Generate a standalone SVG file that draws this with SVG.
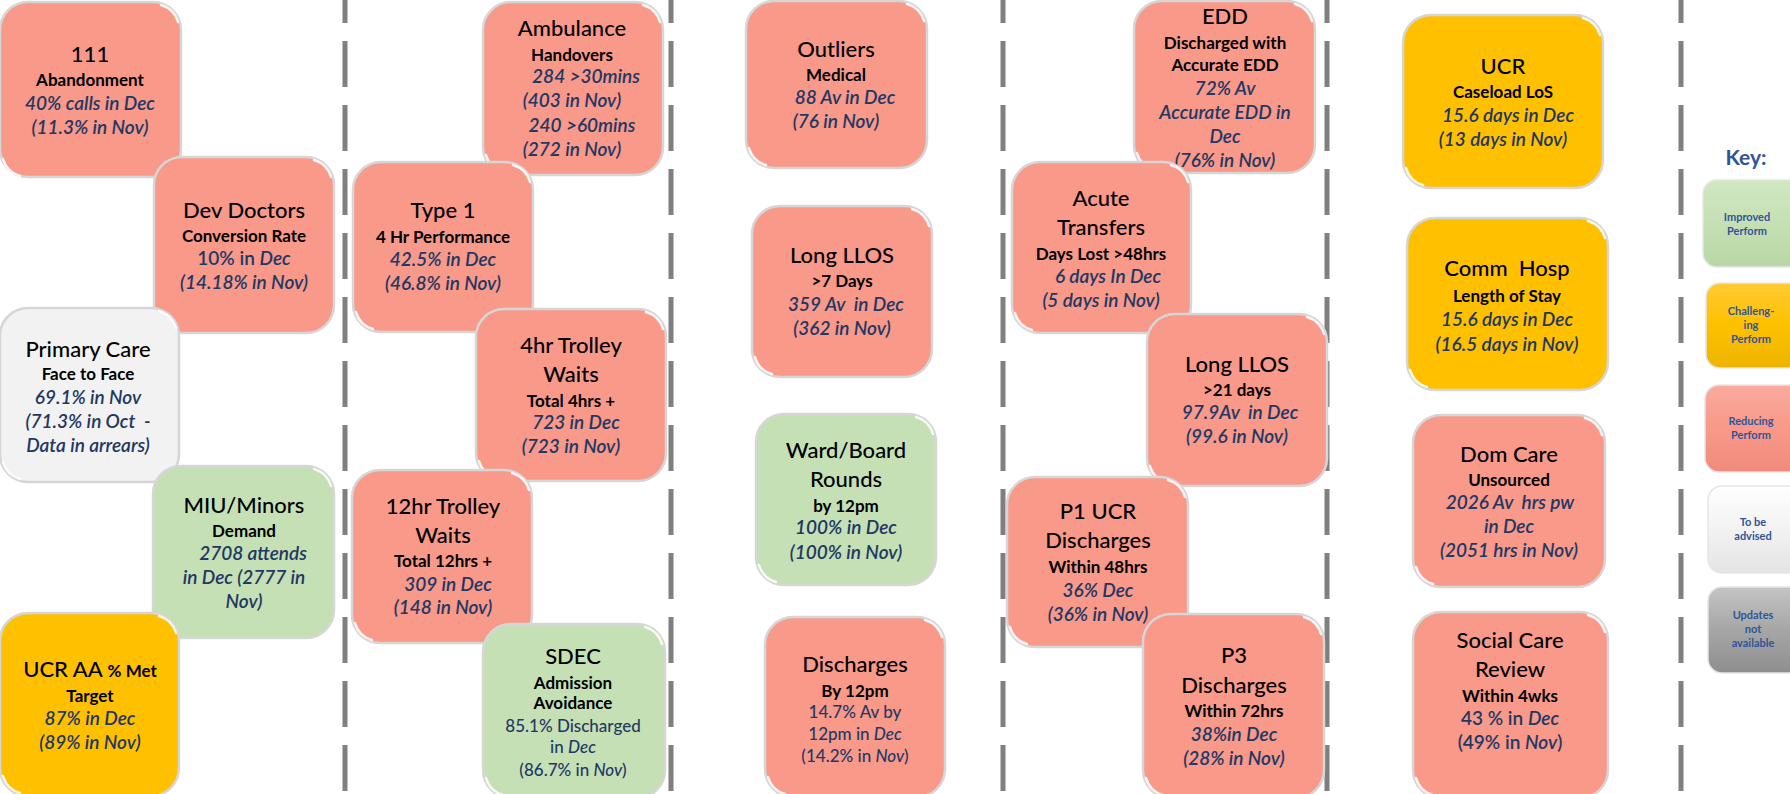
<svg xmlns="http://www.w3.org/2000/svg" width="1790" height="794" viewBox="0 0 1790 794">
<defs>
<linearGradient id="gG" x1="0" y1="0" x2="0" y2="1"><stop offset="0" stop-color="#D2E8C4"/><stop offset="0.5" stop-color="#C5E0B4"/><stop offset="1" stop-color="#B9D7A6"/></linearGradient>
<linearGradient id="gY" x1="0" y1="0" x2="0" y2="1"><stop offset="0" stop-color="#FFCB33"/><stop offset="0.5" stop-color="#FFC000"/><stop offset="1" stop-color="#EDB400"/></linearGradient>
<linearGradient id="gR" x1="0" y1="0" x2="0" y2="1"><stop offset="0" stop-color="#FBAA9D"/><stop offset="0.5" stop-color="#F8998A"/><stop offset="1" stop-color="#EF8B7C"/></linearGradient>
<linearGradient id="gW" x1="0" y1="0" x2="0" y2="1"><stop offset="0" stop-color="#FFFFFF"/><stop offset="0.5" stop-color="#F2F2F2"/><stop offset="1" stop-color="#E4E4E4"/></linearGradient>
<linearGradient id="gK" x1="0" y1="0" x2="0" y2="1"><stop offset="0" stop-color="#C4C4C4"/><stop offset="0.5" stop-color="#A6A6A6"/><stop offset="1" stop-color="#8E8E8E"/></linearGradient>
</defs>
<style>
text{font-family:Lato,"Liberation Sans",sans-serif;text-anchor:middle}
.box{stroke:#D6D6D6;stroke-width:2.5}
.red{fill:#F8998A}
.grn{fill:#C5E0B4}
.yel{fill:#FFC000}
.wht{fill:#F2F2F2}
.gl{fill:none;stroke:#FFFFFF;stroke-width:2.5;stroke-opacity:0.85;stroke-linecap:round}
.t{font-size:22px;font-weight:500;fill:#000}
.s{font-size:17px;font-weight:bold;fill:#000}
.v{font-size:19px;font-weight:600;font-style:italic;fill:#1F3864}
.u{font-size:19px;font-weight:600;fill:#1F3864}
.u2{font-size:17px;font-weight:500;fill:#1F3864}
.i{font-style:italic}
.sep{stroke:#7F7F7F;stroke-width:5;stroke-dasharray:46 18;stroke-dashoffset:23}
.key{font-size:21px;font-weight:bold;fill:#2F5597}
.k{font-size:11px;font-weight:bold;fill:#2F5597}
.kb{stroke:#E6E6E6;stroke-width:1.5}
</style>

<g id="separators">
<line class="sep" x1="345" y1="0" x2="345" y2="794"/>
<line class="sep" x1="671" y1="0" x2="671" y2="794"/>
<line class="sep" x1="1003" y1="0" x2="1003" y2="794"/>
<line class="sep" x1="1327" y1="0" x2="1327" y2="794"/>
<line class="sep" x1="1681" y1="0" x2="1681" y2="794"/>
</g>

<g id="n111">
<rect class="box red" x="0" y="2" width="181" height="175" rx="28"/>
<path class="gl" d="M161,5 A25 25 0 0 1 178,22 M3,159 A25 25 0 0 0 20,176"/>
<text class="t" x="90" y="62">111</text>
<text class="s" x="90" y="86">Abandonment</text>
<text class="v" x="90" y="110">40% calls in Dec</text>
<text class="v" x="90" y="134">(11.3% in Nov)</text>
</g>

<g id="nDevDoctors">
<rect class="box red" x="154" y="157" width="180" height="176" rx="28"/>
<path class="gl" d="M314,160 A25 25 0 0 1 331,177 M157,313 A25 25 0 0 0 174,330"/>
<text class="t" x="244" y="218">Dev Doctors</text>
<text class="s" x="244" y="242">Conversion Rate</text>
<text class="u" x="244" y="265">10% in <tspan class="i">Dec</tspan></text>
<text class="v" x="244" y="289">(14.18% in Nov)</text>
</g>

<g id="nPrimaryCare">
<rect class="box wht" x="0" y="308" width="179" height="174" rx="28"/>
<path class="gl" d="M159,311 A25 25 0 0 1 176,328 M3,462 A25 25 0 0 0 20,479"/>
<text class="t" x="88" y="357">Primary Care</text>
<text class="s" x="88" y="380">Face to Face</text>
<text class="v" x="88" y="404">69.1% in Nov</text>
<text class="v" x="88" y="428" xml:space="preserve">(71.3% in Oct  -</text>
<text class="v" x="88" y="452">Data in arrears)</text>
</g>

<g id="nMIU">
<rect class="box grn" x="153" y="466" width="181" height="172" rx="28"/>
<path class="gl" d="M314,469 A25 25 0 0 1 331,486 M156,618 A25 25 0 0 0 173,635"/>
<text class="t" x="244" y="513">MIU/Minors</text>
<text class="s" x="244" y="537">Demand</text>
<text class="v" x="253" y="560">2708 attends</text>
<text class="v" x="244" y="584">in Dec (2777 in</text>
<text class="v" x="244" y="608">Nov)</text>
</g>

<g id="nUCRAA">
<rect class="box yel" x="0" y="613" width="179" height="183" rx="28"/>
<path class="gl" d="M159,616 A25 25 0 0 1 176,633 M3,776 A25 25 0 0 0 20,793"/>
<text class="t" x="90" y="677">UCR AA <tspan class="s">% Met</tspan></text>
<text class="s" x="90" y="702">Target</text>
<text class="v" x="90" y="725">87% in Dec</text>
<text class="v" x="90" y="749">(89% in Nov)</text>
</g>

<g id="nAmbulance">
<rect class="box red" x="483" y="2" width="180" height="173" rx="28"/>
<path class="gl" d="M643,5 A25 25 0 0 1 660,22 M486,155 A25 25 0 0 0 503,172"/>
<text class="t" x="572" y="36">Ambulance</text>
<text class="s" x="572" y="61">Handovers</text>
<text class="v" x="586" y="83">284 &gt;30mins</text>
<text class="v" x="572" y="107">(403 in Nov)</text>
<text class="v" x="582" y="132">240 &gt;60mins</text>
<text class="v" x="572" y="156">(272 in Nov)</text>
</g>

<g id="nType1">
<rect class="box red" x="353" y="162" width="180" height="170" rx="28"/>
<path class="gl" d="M513,165 A25 25 0 0 1 530,182 M356,312 A25 25 0 0 0 373,329"/>
<text class="t" x="443" y="218">Type 1</text>
<text class="s" x="443" y="243">4 Hr Performance</text>
<text class="v" x="443" y="266">42.5% in Dec</text>
<text class="v" x="443" y="290">(46.8% in Nov)</text>
</g>

<g id="n4hrTrolley">
<rect class="box red" x="476" y="309" width="190" height="172" rx="28"/>
<path class="gl" d="M646,312 A25 25 0 0 1 663,329 M479,461 A25 25 0 0 0 496,478"/>
<text class="t" x="571" y="353">4hr Trolley</text>
<text class="t" x="571" y="382">Waits</text>
<text class="s" x="571" y="407">Total 4hrs +</text>
<text class="v" x="576" y="429">723 in Dec</text>
<text class="v" x="571" y="453">(723 in Nov)</text>
</g>

<g id="n12hrTrolley">
<rect class="box red" x="352" y="470" width="180" height="173" rx="28"/>
<path class="gl" d="M512,473 A25 25 0 0 1 529,490 M355,623 A25 25 0 0 0 372,640"/>
<text class="t" x="443" y="514">12hr Trolley</text>
<text class="t" x="443" y="543">Waits</text>
<text class="s" x="443" y="567">Total 12hrs +</text>
<text class="v" x="448" y="591">309 in Dec</text>
<text class="v" x="443" y="614">(148 in Nov)</text>
</g>

<g id="nSDEC">
<rect class="box grn" x="483" y="624" width="182" height="174" rx="28"/>
<path class="gl" d="M645,627 A25 25 0 0 1 662,644 M486,778 A25 25 0 0 0 503,795"/>
<text class="t" x="573" y="664">SDEC</text>
<text class="s" x="573" y="689">Admission</text>
<text class="s" x="573" y="709">Avoidance</text>
<text class="u2" x="573" y="732">85.1% Discharged</text>
<text class="u2" x="573" y="753">in <tspan class="i">Dec</tspan></text>
<text class="u2" x="573" y="776">(86.7% in <tspan class="i">Nov</tspan>)</text>
</g>

<g id="nOutliers">
<rect class="box red" x="746" y="1" width="181" height="167" rx="28"/>
<path class="gl" d="M907,4 A25 25 0 0 1 924,21 M749,148 A25 25 0 0 0 766,165"/>
<text class="t" x="836" y="57">Outliers</text>
<text class="s" x="836" y="81">Medical</text>
<text class="v" x="845" y="104">88 Av in Dec</text>
<text class="v" x="836" y="128">(76 in Nov)</text>
</g>

<g id="nLongLLOS7">
<rect class="box red" x="752" y="206" width="180" height="171" rx="28"/>
<path class="gl" d="M912,209 A25 25 0 0 1 929,226 M755,357 A25 25 0 0 0 772,374"/>
<text class="t" x="842" y="263">Long LLOS</text>
<text class="s" x="842" y="287">&gt;7 Days</text>
<text class="v" x="846" y="311" xml:space="preserve">359 Av  in Dec</text>
<text class="v" x="842" y="335">(362 in Nov)</text>
</g>

<g id="nWardBoard">
<rect class="box grn" x="756" y="414" width="180" height="171" rx="28"/>
<path class="gl" d="M916,417 A25 25 0 0 1 933,434 M759,565 A25 25 0 0 0 776,582"/>
<text class="t" x="846" y="458">Ward/Board</text>
<text class="t" x="846" y="487">Rounds</text>
<text class="s" x="846" y="512">by 12pm</text>
<text class="v" x="846" y="534">100% in Dec</text>
<text class="v" x="846" y="559">(100% in Nov)</text>
</g>

<g id="nDischarges">
<rect class="box red" x="765" y="617" width="180" height="180" rx="28"/>
<path class="gl" d="M925,620 A25 25 0 0 1 942,637 M768,777 A25 25 0 0 0 785,794"/>
<text class="t" x="855" y="672">Discharges</text>
<text class="s" x="855" y="697">By 12pm</text>
<text class="u2" x="855" y="718">14.7% Av by</text>
<text class="u2" x="855" y="740">12pm in <tspan class="i">Dec</tspan></text>
<text class="u2" x="855" y="762">(14.2% in <tspan class="i">Nov</tspan>)</text>
</g>

<g id="nEDD">
<rect class="box red" x="1134" y="1" width="181" height="172" rx="28"/>
<path class="gl" d="M1295,4 A25 25 0 0 1 1312,21 M1137,153 A25 25 0 0 0 1154,170"/>
<text class="t" x="1225" y="24">EDD</text>
<text class="s" x="1225" y="49">Discharged with</text>
<text class="s" x="1225" y="71">Accurate EDD</text>
<text class="v" x="1225" y="95">72% Av</text>
<text class="v" x="1225" y="119">Accurate EDD in</text>
<text class="v" x="1225" y="143">Dec</text>
<text class="v" x="1225" y="167">(76% in Nov)</text>
</g>

<g id="nAcuteTransfers">
<rect class="box red" x="1012" y="162" width="179" height="171" rx="28"/>
<path class="gl" d="M1171,165 A25 25 0 0 1 1188,182 M1015,313 A25 25 0 0 0 1032,330"/>
<text class="t" x="1101" y="206">Acute</text>
<text class="t" x="1101" y="235">Transfers</text>
<text class="s" x="1101" y="260">Days Lost &gt;48hrs</text>
<text class="v" x="1108" y="283">6 days In Dec</text>
<text class="v" x="1101" y="307">(5 days in Nov)</text>
</g>

<g id="nLongLLOS21">
<rect class="box red" x="1147" y="314" width="180" height="172" rx="28"/>
<path class="gl" d="M1307,317 A25 25 0 0 1 1324,334 M1150,466 A25 25 0 0 0 1167,483"/>
<text class="t" x="1237" y="372">Long LLOS</text>
<text class="s" x="1237" y="396">&gt;21 days</text>
<text class="v" x="1240" y="419" xml:space="preserve">97.9Av  in Dec</text>
<text class="v" x="1237" y="443">(99.6 in Nov)</text>
</g>

<g id="nP1UCR">
<rect class="box red" x="1007" y="477" width="181" height="170" rx="28"/>
<path class="gl" d="M1168,480 A25 25 0 0 1 1185,497 M1010,627 A25 25 0 0 0 1027,644"/>
<text class="t" x="1098" y="519">P1 UCR</text>
<text class="t" x="1098" y="548">Discharges</text>
<text class="s" x="1098" y="573">Within 48hrs</text>
<text class="v" x="1098" y="597">36% Dec</text>
<text class="v" x="1098" y="621">(36% in Nov)</text>
</g>

<g id="nP3">
<rect class="box red" x="1143" y="614" width="181" height="184" rx="28"/>
<path class="gl" d="M1304,617 A25 25 0 0 1 1321,634 M1146,778 A25 25 0 0 0 1163,795"/>
<text class="t" x="1234" y="663">P3</text>
<text class="t" x="1234" y="693">Discharges</text>
<text class="s" x="1234" y="717">Within 72hrs</text>
<text class="v" x="1234" y="741">38%in Dec</text>
<text class="v" x="1234" y="765">(28% in Nov)</text>
</g>

<g id="nUCR">
<rect class="box yel" x="1403" y="15" width="200" height="173" rx="28"/>
<path class="gl" d="M1583,18 A25 25 0 0 1 1600,35 M1406,168 A25 25 0 0 0 1423,185"/>
<text class="t" x="1503" y="74">UCR</text>
<text class="s" x="1503" y="98">Caseload LoS</text>
<text class="v" x="1508" y="122">15.6 days in Dec</text>
<text class="v" x="1503" y="146">(13 days in Nov)</text>
</g>

<g id="nCommHosp">
<rect class="box yel" x="1407" y="218" width="201" height="172" rx="28"/>
<path class="gl" d="M1588,221 A25 25 0 0 1 1605,238 M1410,370 A25 25 0 0 0 1427,387"/>
<text class="t" x="1507" y="276" xml:space="preserve">Comm  Hosp</text>
<text class="s" x="1507" y="302">Length of Stay</text>
<text class="v" x="1507" y="326">15.6 days in Dec</text>
<text class="v" x="1507" y="351">(16.5 days in Nov)</text>
</g>

<g id="nDomCare">
<rect class="box red" x="1413" y="415" width="192" height="172" rx="28"/>
<path class="gl" d="M1585,418 A25 25 0 0 1 1602,435 M1416,567 A25 25 0 0 0 1433,584"/>
<text class="t" x="1509" y="462">Dom Care</text>
<text class="s" x="1509" y="486">Unsourced</text>
<text class="v" x="1510" y="509" xml:space="preserve">2026 Av  hrs pw</text>
<text class="v" x="1509" y="533">in Dec</text>
<text class="v" x="1509" y="557">(2051 hrs in Nov)</text>
</g>

<g id="nSocialCare">
<rect class="box red" x="1413" y="612" width="195" height="186" rx="28"/>
<path class="gl" d="M1588,615 A25 25 0 0 1 1605,632 M1416,778 A25 25 0 0 0 1433,795"/>
<text class="t" x="1510" y="648">Social Care</text>
<text class="t" x="1510" y="677">Review</text>
<text class="s" x="1510" y="702">Within 4wks</text>
<text class="u" x="1510" y="725">43 % in <tspan class="i">Dec</tspan></text>
<text class="u" x="1510" y="749">(49% in <tspan class="i">Nov</tspan>)</text>
</g>

<g id="key">
<text class="key" x="1746" y="165">Key:</text>
<g id="keyImproved">
<rect class="kb" x="1703" y="180" width="100" height="87" rx="14" fill="url(#gG)"/>
<text class="k" x="1747" y="221">Improved</text>
<text class="k" x="1747" y="235">Perform</text>
</g>
<g id="keyChallenging">
<rect class="kb" x="1706" y="283" width="100" height="85" rx="14" fill="url(#gY)"/>
<text class="k" x="1751" y="315">Challeng-</text>
<text class="k" x="1751" y="329">ing</text>
<text class="k" x="1751" y="343">Perform</text>
</g>
<g id="keyReducing">
<rect class="kb" x="1705" y="385" width="100" height="87" rx="14" fill="url(#gR)"/>
<text class="k" x="1751" y="425">Reducing</text>
<text class="k" x="1751" y="439">Perform</text>
</g>
<g id="keyAdvised">
<rect class="kb" x="1708" y="486" width="100" height="87" rx="14" fill="url(#gW)"/>
<text class="k" x="1753" y="526">To be</text>
<text class="k" x="1753" y="540">advised</text>
</g>
<g id="keyNotAvailable">
<rect class="kb" x="1708" y="587" width="100" height="86" rx="14" fill="url(#gK)"/>
<text class="k" x="1753" y="619">Updates</text>
<text class="k" x="1753" y="633">not</text>
<text class="k" x="1753" y="647">available</text>
</g>
</g>
</svg>
